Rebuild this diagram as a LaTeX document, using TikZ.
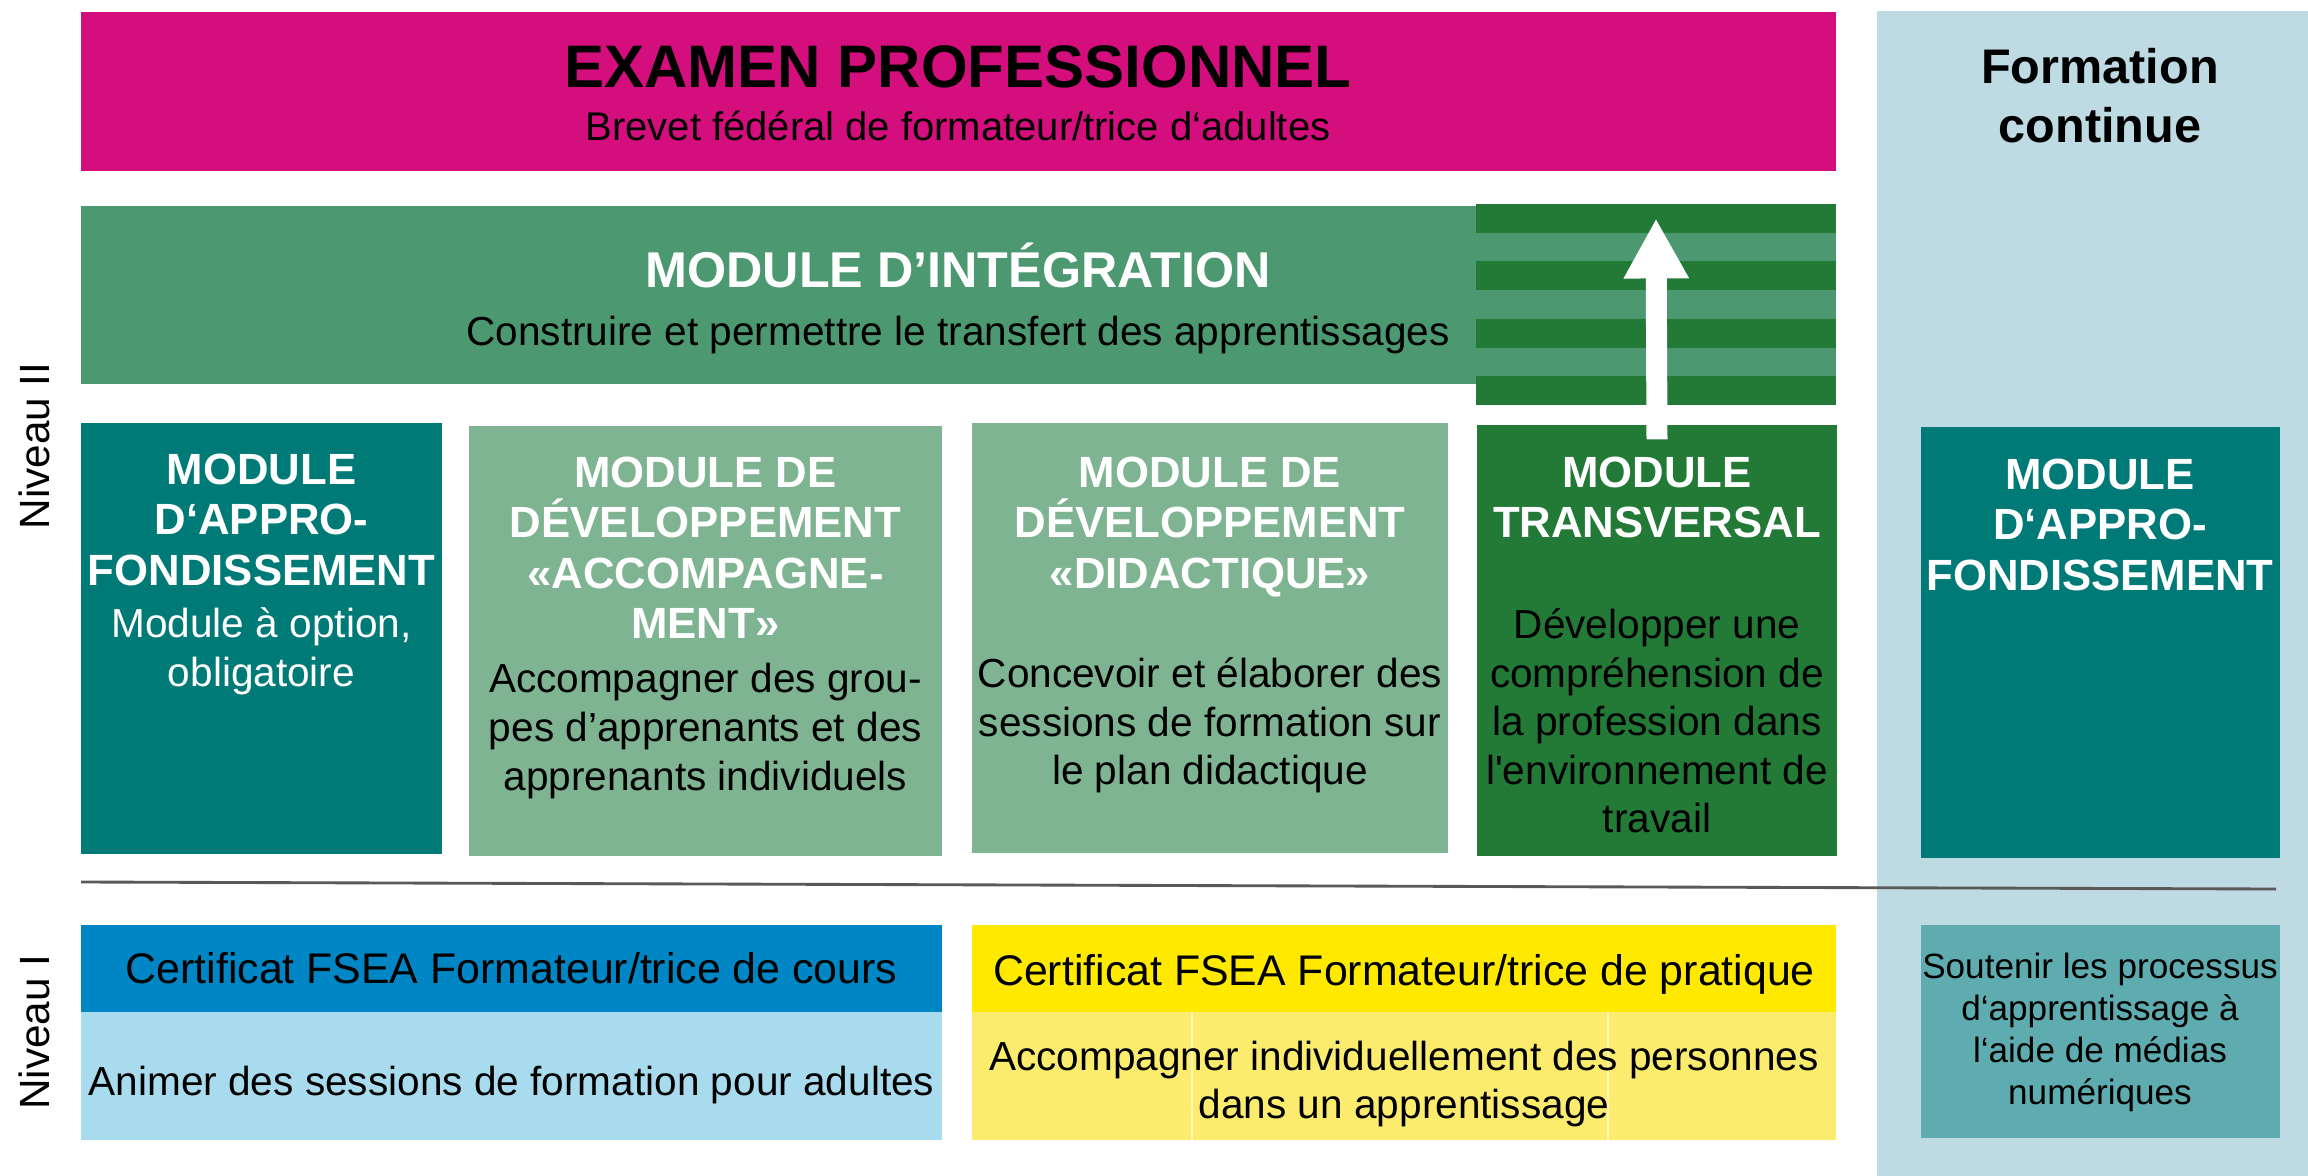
\documentclass[tikz,border=0pt]{standalone}
\usepackage{fontspec}
\setmainfont{Liberation Sans}
\usetikzlibrary{positioning,fit,arrows.meta}
\definecolor{examag}{RGB}{213,14,125}
\definecolor{contblue}{RGB}{190,218,226}
\definecolor{integgreen}{RGB}{76,152,112}
\definecolor{transgreen}{RGB}{35,122,55}
\definecolor{approteal}{RGB}{0,122,118}
\definecolor{devgreen}{RGB}{127,180,147}
\definecolor{coursblue}{RGB}{0,134,196}
\definecolor{coursblueL}{RGB}{168,219,238}
\definecolor{pratyellow}{RGB}{255,233,0}
\definecolor{pratyellowL}{RGB}{252,236,110}
\definecolor{medteal}{RGB}{94,172,175}
\tikzset{
  block/.style={inner sep=0pt,draw=none},
  modtitle/.style={font=\bfseries\fontsize{15.3}{17.7}\selectfont,text=white,align=center,inner sep=0pt,anchor=north},
  modbody/.style={font=\fontsize{14.2}{17}\selectfont,align=center,inner sep=0pt,anchor=north},
  bandtext/.style={font=\fontsize{14.2}{17}\selectfont,inner sep=0pt,anchor=base},
  niveau/.style={font=\fontsize{14.8}{17}\selectfont,rotate=90,inner sep=0pt}
}
\begin{document}
\begin{tikzpicture}[x=0.35pt,y=-0.35pt]
\useasboundingbox[fill=white] (0,0) rectangle (2308,1176);
\node[block,fill=contblue,fit={(1877,11) (2308,1176)}] (contpanel) {};
\node[block,fill=examag,fit={(81,12) (1836,171)}] (exam) {};
\node[font=\bfseries\fontsize{21}{24}\selectfont,anchor=base,inner sep=0pt] (examtitle) at (958,87) {EXAMEN PROFESSIONNEL};
\node[font=\fontsize{14}{16}\selectfont,anchor=base,inner sep=0pt] (examsub) at (958,140) {Brevet fédéral de formateur/trice d‘adultes};
\node[font=\bfseries\fontsize{17}{20.6}\selectfont,align=center,anchor=north,inner sep=0pt] (conttitle) at (2100,48) {Formation\\continue};
\node[niveau] (niv2) at (34,446) {Niveau II};
\node[niveau] (niv1) at (34,1032) {Niveau I};

\node[block,fill=integgreen,fit={(81,206) (1476,384)}] (integ) {};
\node[block,fill=integgreen,fit={(1476,204) (1836,405)}] (stripes) {};
\fill[transgreen] (1476,204) rectangle (1836,232.7);
\fill[transgreen] (1476,261.4) rectangle (1836,290.1);
\fill[transgreen] (1476,318.9) rectangle (1836,347.6);
\fill[transgreen] (1476,376.3) rectangle (1836,405);
\node[font=\bfseries\fontsize{17.6}{20}\selectfont,text=white,anchor=base,inner sep=0pt] (integtitle) at (958,287) {MODULE D’INTÉGRATION};
\node[bandtext] (integsub) at (958,345) {Construire et permettre le transfert des apprentissages};

\node[block,fill=approteal,fit={(81,423) (442,854)}] (appro) {};
\node[block,fill=devgreen,fit={(469,426) (942,856)}] (accomp) {};
\node[block,fill=devgreen,fit={(972,423) (1448,853)}] (didact) {};
\node[block,fill=transgreen,fit={(1477,425) (1837,856)}] (trans) {};
\node[block,fill=approteal,fit={(1921,427) (2280,858)}] (approcont) {};

\node[modtitle] (approtitle) at (261.5,453) {MODULE\\D‘APPRO-\\FONDISSEMENT};
\node[modbody,text=white] (approbody) at (261.5,607) {Module à option,\\obligatoire};
\node[modtitle] (accomptitle) at (705.5,456) {MODULE DE\\DÉVELOPPEMENT\\«ACCOMPAGNE-\\MENT»};
\node[modbody] (accompbody) at (705.5,663) {Accompagner des grou-\\pes d’apprenants et des\\apprenants individuels};
\node[modtitle] (didacttitle) at (1210,456) {MODULE DE\\DÉVELOPPEMENT\\«DIDACTIQUE»};
\node[modbody] (didactbody) at (1210,657) {Concevoir et élaborer des\\sessions de formation sur\\le plan didactique};
\node[modtitle] (transtitle) at (1657,456) {MODULE\\TRANSVERSAL};
\node[modbody] (transbody) at (1657,608) {Développer une\\compréhension de\\la profession dans\\l\textquotesingle environnement de\\travail};
\node[modtitle] (approconttitle) at (2100,458) {MODULE\\D‘APPRO-\\FONDISSEMENT};

\coordinate (arrtail) at ([yshift=-5.25pt]trans.north);
\coordinate (arrtip) at ([yshift=-5.25pt]stripes.north);
\draw[white,line width=7.35pt,-{Triangle[length=21pt,width=21.35pt]}] (arrtail) -- (arrtip);

\coordinate (sepL) at (81,882);
\coordinate (sepR) at (2276,889);
\draw[black!65,line width=1pt] (sepL) -- (sepR);

\node[block,fill=coursblue,fit={(81,925) (942,1012)}] (cours) {};
\node[block,fill=coursblueL,fit={(81,1012) (942,1140)}] (coursL) {};
\node[block,fill=pratyellow,fit={(972,925) (1836,1012)}] (prat) {};
\node[block,fill=pratyellowL,fit={(972,1012) (1836,1140)}] (pratL) {};
\draw[pratyellowL!45!white,line width=0.8pt] (1192,1012) -- (1192,1140);
\draw[pratyellowL!45!white,line width=0.8pt] (1608,1012) -- (1608,1140);
\node[block,fill=medteal,fit={(1921,925) (2280,1138)}] (numerique) {};

\node[bandtext,font=\fontsize{15}{17}\selectfont] (courstitle) at (511.5,983) {Certificat FSEA Formateur/trice de cours};
\node[bandtext] (coursbody) at (511.5,1095) {Animer des sessions de formation pour adultes};
\node[bandtext,font=\fontsize{15}{17}\selectfont] (pratitle) at (1404,985) {Certificat FSEA Formateur/trice de pratique};
\node[modbody,font=\fontsize{14.2}{16.8}\selectfont] (pratbody) at (1404,1041) {Accompagner individuellement des personnes\\dans un apprentissage};
\node[modbody,font=\fontsize{12.3}{14.7}\selectfont] (numbody) at (2100,952) {Soutenir les processus\\d‘apprentissage à\\l‘aide de médias\\numériques};
\end{tikzpicture}
\end{document}
